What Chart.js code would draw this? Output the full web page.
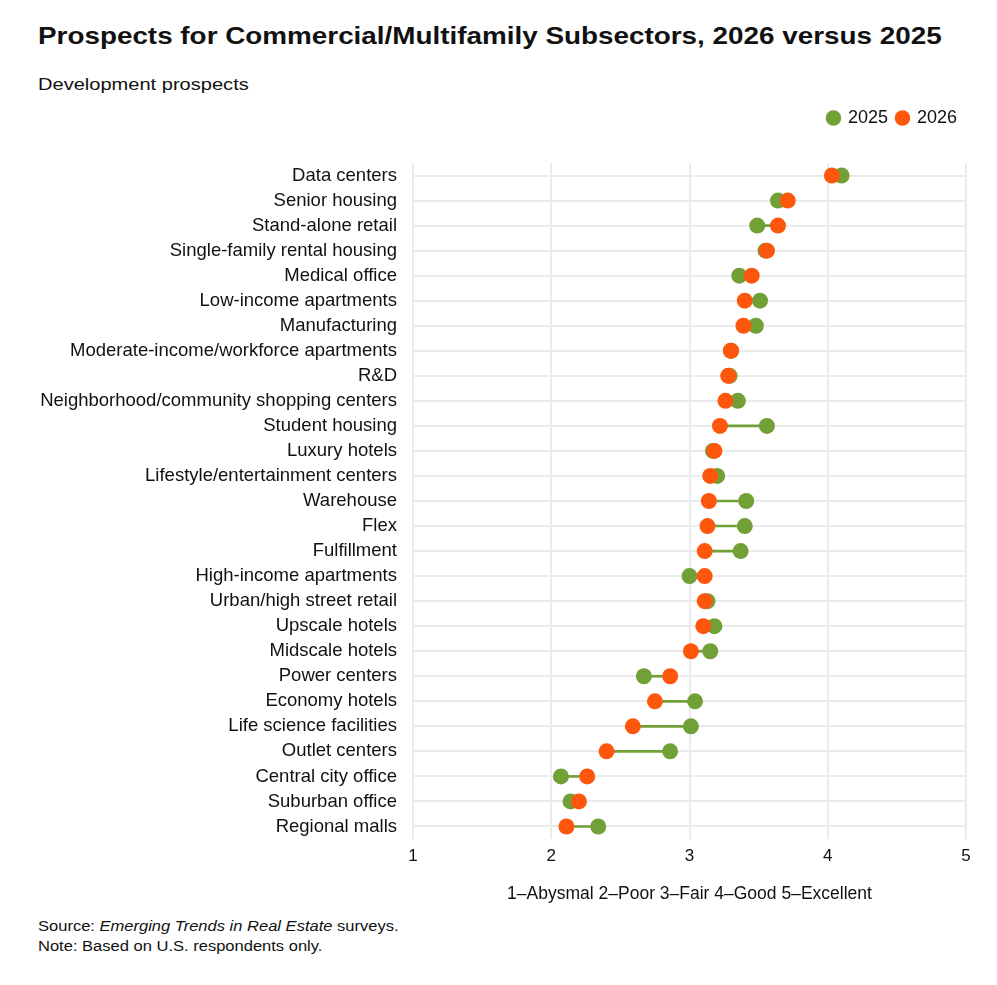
<!DOCTYPE html>
<html>
<head>
<meta charset="utf-8">
<script src="https://cdn.jsdelivr.net/npm/chart.js@4"></script>
<style>
  body { margin: 0; background: #fff; font-family: "Liberation Sans", Arial, sans-serif; color: #111; }
  #wrap { position: relative; width: 997px; height: 985px; }
  .wide { transform-origin: left top; transform: scaleX(1.18); white-space: nowrap; }
  h1 { position: absolute; left: 38px; top: 22px; margin: 0; font-size: 24px; font-weight: bold; transform: scaleX(1.16); }
  .sub { position: absolute; left: 38px; top: 75px; font-size: 17px; }
  .note { position: absolute; left: 38px; font-size: 14px; }
  #box { position: absolute; left: 0; top: 100px; width: 997px; height: 805px; }
</style>
</head>
<body>
<div id="wrap">
  <h1 class="wide" style="transform: scaleX(1.16)">Prospects for Commercial/Multifamily Subsectors, 2026 versus 2025</h1>
  <div class="sub wide">Development prospects</div>
  <div id="box"><canvas id="dumbbell"></canvas></div>
  <div class="note wide" style="top:918px">Source: <i>Emerging Trends in Real Estate</i> surveys.</div>
  <div class="note wide" style="top:938px">Note: Based on U.S. respondents only.</div>
</div>
<script>
// Data
const sectors = [
    "Data centers", "Senior housing", "Stand-alone retail", "Single-family rental housing",
    "Medical office", "Low-income apartments", "Manufacturing", "Moderate-income/workforce apartments",
    "R&D", "Neighborhood/community shopping centers", "Student housing", "Luxury hotels",
    "Lifestyle/entertainment centers", "Warehouse", "Flex", "Fulfillment",
    "High-income apartments", "Urban/high street retail", "Upscale hotels", "Midscale hotels",
    "Power centers", "Economy hotels", "Life science facilities", "Outlet centers",
    "Central city office", "Suburban office", "Regional malls"
];
const prospects2025 = [4.10, 3.64, 3.49, 3.55, 3.36, 3.51, 3.48, 3.30, 3.29, 3.35, 3.56, 3.17,
    3.20, 3.41, 3.40, 3.37, 3.00, 3.13, 3.18, 3.15, 2.67, 3.04, 3.01, 2.86, 2.07, 2.14, 2.34];
const prospects2026 = [4.03, 3.71, 3.64, 3.56, 3.45, 3.40, 3.39, 3.30, 3.28, 3.26, 3.22, 3.18,
    3.15, 3.14, 3.13, 3.11, 3.11, 3.11, 3.10, 3.01, 2.86, 2.75, 2.59, 2.40, 2.26, 2.20, 2.11];
const scaleTicks = [1, 2, 3, 4, 5];

const green = "#71a036";
const orange = "#fe560d";

// connectors between the two years
const spans = sectors.map((s, i) => [prospects2025[i], prospects2026[i]]);

// make room under the legend so the plot starts lower
const legendSpace = {
    id: "legendSpace",
    beforeInit(chart) {
        const fit = chart.legend.fit;
        chart.legend.fit = function () {
            fit.bind(chart.legend)();
            this.height = 63;
        };
    }
};

const ctx = document.getElementById("dumbbell").getContext("2d");
const chart = new Chart(ctx, {
    type: "bar",
    data: {
        labels: sectors,
        datasets: [
            {
                type: "line",
                label: "2026",
                data: prospects2026,
                indexAxis: "y",
                showLine: false,
                pointRadius: 8,
                pointHoverRadius: 8,
                pointBorderWidth: 0,
                backgroundColor: orange,
                borderColor: orange,
                order: 1
            },
            {
                type: "line",
                label: "2025",
                data: prospects2025,
                indexAxis: "y",
                showLine: false,
                pointRadius: 8,
                pointHoverRadius: 8,
                pointBorderWidth: 0,
                backgroundColor: green,
                borderColor: green,
                order: 2
            },
            {
                label: "span",
                data: spans,
                backgroundColor: green,
                barThickness: 2,
                borderSkipped: false,
                order: 3
            }
        ]
    },
    options: {
        indexAxis: "y",
        responsive: true,
        maintainAspectRatio: false,
        animation: false,
        layout: { padding: { left: 0, right: 31, top: 0, bottom: 0 } },
        plugins: {
            legend: {
                display: true,
                position: "top",
                align: "end",
                reverse: true,
                labels: {
                    usePointStyle: true,
                    pointStyle: "circle",
                    boxWidth: 11,
                    boxHeight: 11,
                    padding: 9,
                    color: "#111",
                    font: { family: "Liberation Sans", size: 18 },
                    filter: item => item.text !== "span"
                }
            },
            tooltip: { enabled: false }
        },
        scales: {
            x: {
                type: "linear",
                min: 1,
                max: 5,
                afterBuildTicks: axis => { axis.ticks = scaleTicks.map(v => ({ value: v })); },
                grid: { color: "#ebebeb", lineWidth: 2, drawTicks: false },
                border: { display: false },
                ticks: { color: "#111", padding: 7, font: { family: "Liberation Sans", size: 17 } },
                title: {
                    display: true,
                    text: "1–Abysmal 2–Poor 3–Fair 4–Good 5–Excellent",
                    color: "#111",
                    padding: { top: 10, bottom: 0 },
                    font: { family: "Liberation Sans", size: 17.5 }
                },
                afterFit: axis => { axis.height = 66; }
            },
            y: {
                type: "category",
                offset: true,
                grid: { color: "#ebebeb", lineWidth: 2, drawTicks: false, offset: false },
                border: { display: false },
                ticks: { color: "#111", padding: 16, autoSkip: false, font: { family: "Liberation Sans", size: 18.5 } },
                afterFit: axis => { axis.width = 413; }
            }
        }
    },
    plugins: [legendSpace]
});
</script>
</body>
</html>
